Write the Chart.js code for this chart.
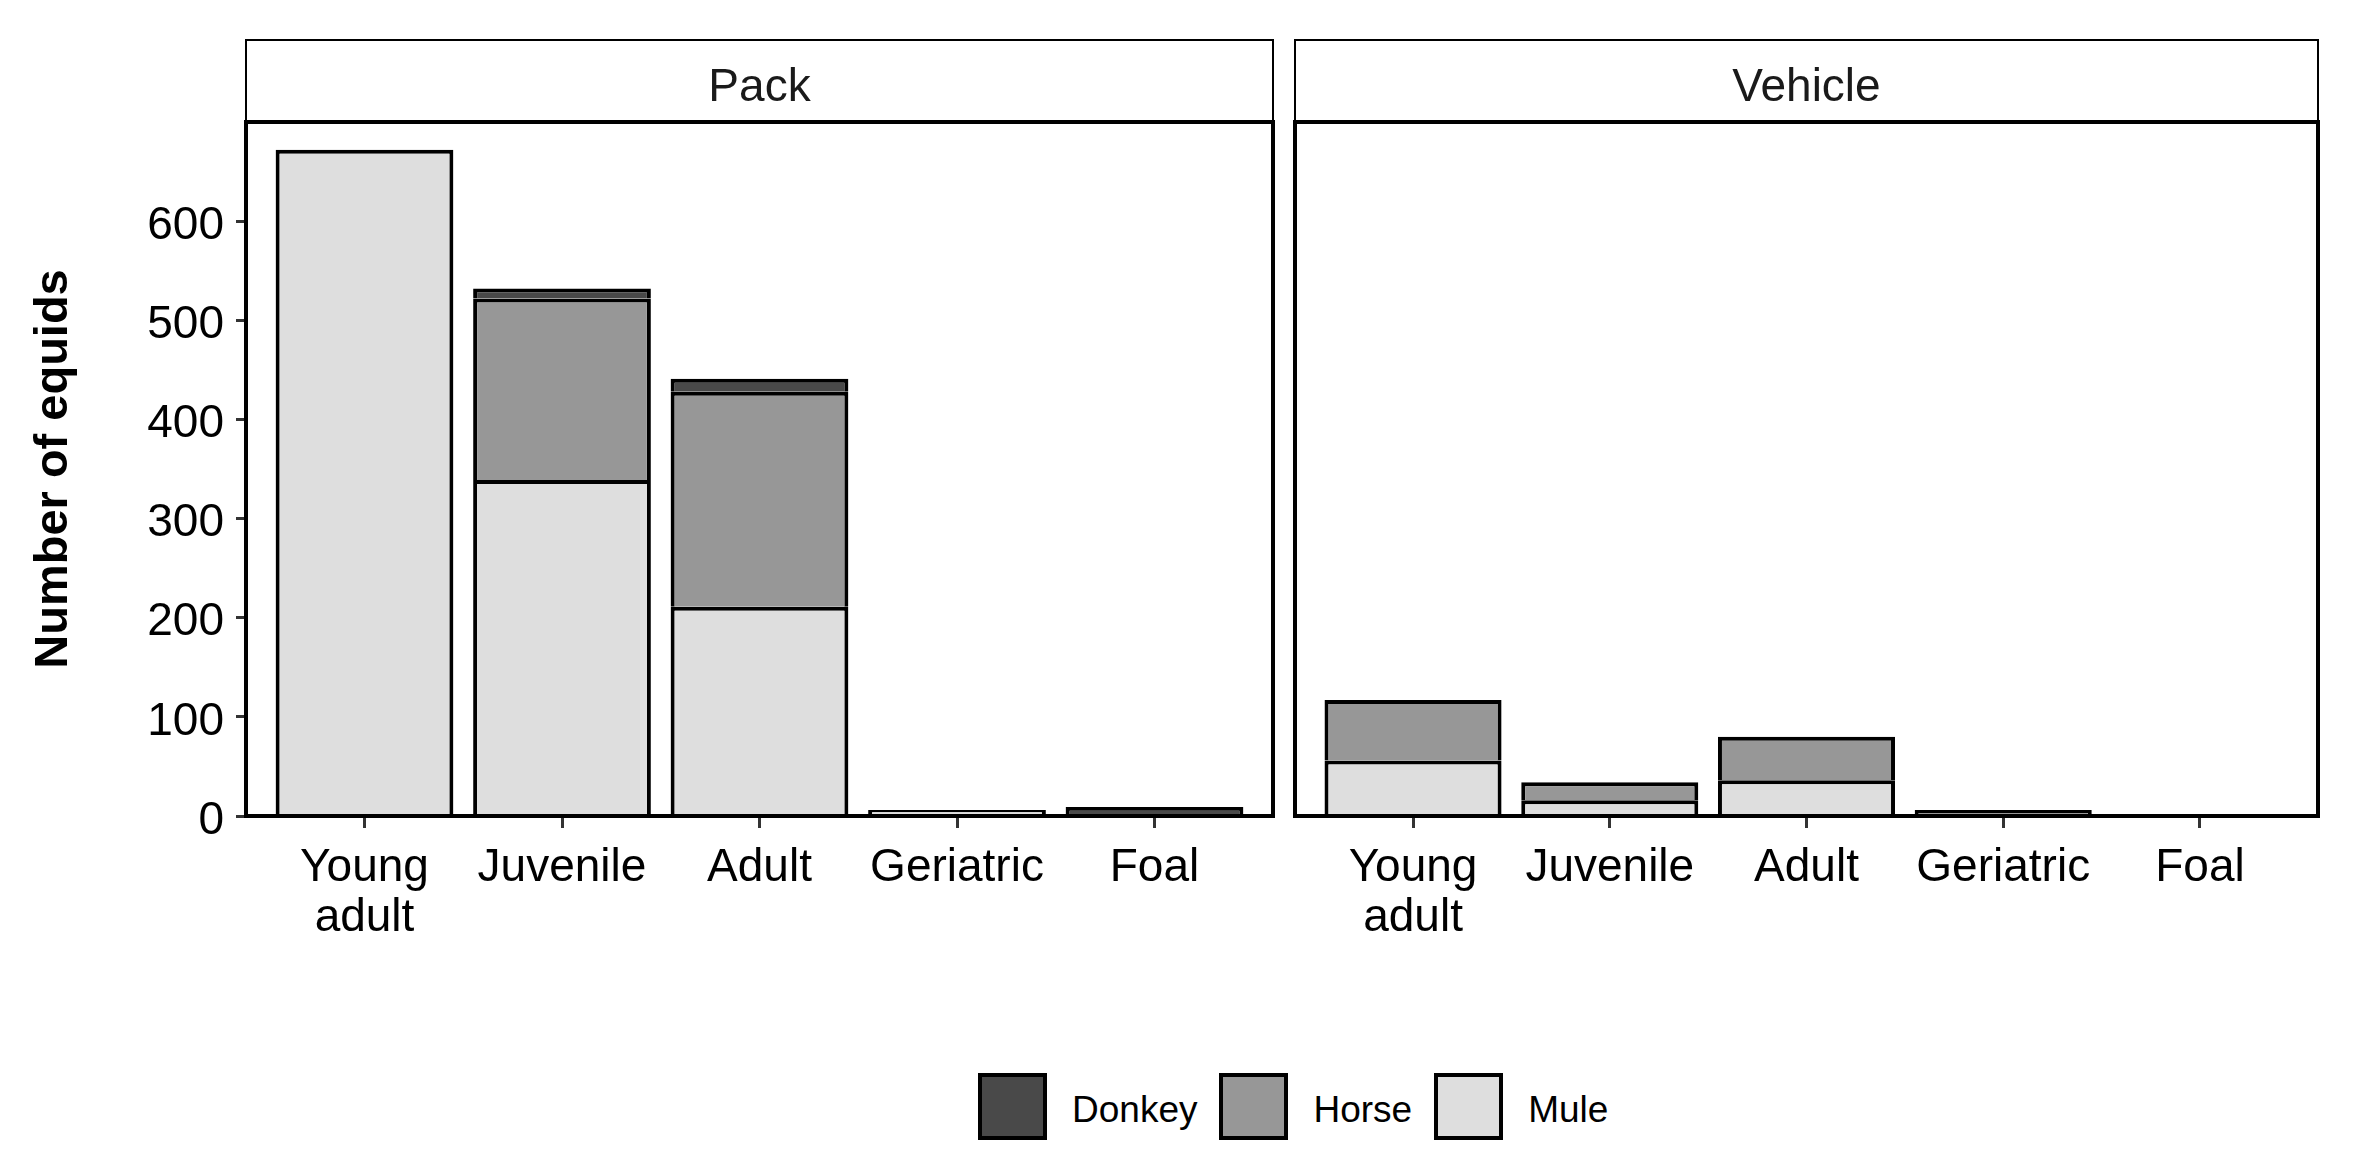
<!DOCTYPE html>
<html>
<head>
<meta charset="utf-8">
<script src="https://cdn.jsdelivr.net/npm/chart.js@4.4.1/dist/chart.umd.min.js"></script>
<style>
  html, body { margin: 0; padding: 0; background: #fff; }
  body { width: 2360px; height: 1174px; position: relative; overflow: hidden;
         font-family: "Liberation Sans", Arial, sans-serif; }
  .panel { position: absolute; top: 0; height: 966px; }
  #legend { position: absolute; left: 978px; top: 1073px; display: flex; align-items: center; }
  .key { width: 69px; height: 67px; box-sizing: border-box; border: 4px solid #000; }
  .lab { font-size: 37px; margin-left: 25px; margin-right: 22px; color: #000;
         position: relative; top: 3px; }
</style>
</head>
<body>
<div class="panel" style="left:0;width:1285px"><canvas id="pack"></canvas></div>
<div class="panel" style="left:1285px;width:1075px"><canvas id="vehicle"></canvas></div>
<div id="legend"></div>
<script>
var AGES = ['Young adult', 'Juvenile', 'Adult', 'Geriatric', 'Foal'];
var SPECIES = ['Donkey', 'Horse', 'Mule'];
var FILLS = ['#494949', '#979797', '#dedede'];
var Y_TICKS = [0, 100, 200, 300, 400, 500, 600];
var Y_MAX = 700;

// Pack
var packDonkey = [0, 10, 13, 0, 9];
var packHorse  = [0, 183, 217, 0, 0];
var packMule   = [672, 339, 211, 6, 0];

// Vehicle
var vehDonkey = [0, 0, 0, 0, 0];
var vehHorse  = [61, 18, 44, 6, 0];
var vehMule   = [56, 16, 36, 0, 0];

Chart.defaults.font.family = '"Liberation Sans", Arial, sans-serif';
Chart.defaults.color = '#000';

// strip on top + box round the panel, like facet_wrap
var facetFrame = {
  id: 'facetFrame',
  afterDatasetsDraw: function(chart, args, opts) {
    var a = chart.chartArea, ctx = chart.ctx;
    ctx.save();
    ctx.strokeStyle = '#000';
    ctx.lineWidth = 2;
    ctx.strokeRect(a.left, opts.stripTop, a.right - a.left, a.top - opts.stripTop);
    ctx.fillStyle = '#1a1a1a';
    ctx.font = '46px "Liberation Sans", Arial, sans-serif';
    ctx.textAlign = 'center';
    ctx.textBaseline = 'middle';
    ctx.fillText(opts.label, (a.left + a.right) / 2, (opts.stripTop + a.top) / 2 + 7);
    ctx.lineWidth = 4;
    ctx.strokeRect(a.left, a.top, a.right - a.left, a.bottom - a.top);
    ctx.restore();
  }
};

function pts(arr) {
  return arr.map(function(v, i) { return { x: i, y: v }; });
}

function makeSets(mule, horse, donkey) {
  // bottom to top: Mule, Horse, Donkey
  var vals = [donkey, horse, mule];
  return [2, 1, 0].map(function(k) {
    return {
      label: SPECIES[k],
      data: pts(vals[k]),
      backgroundColor: FILLS[k],
      borderColor: '#000',
      borderWidth: { top: 4, left: 4, right: 4, bottom: 0 },
      borderSkipped: false,
      categoryPercentage: 1,
      barPercentage: 0.9
    };
  });
}

function xAxis() {
  return {
    type: 'linear', stacked: true, min: -0.6, max: 4.6, offset: false,
    afterBuildTicks: function(s) { s.ticks = AGES.map(function(c, i) { return { value: i }; }); },
    afterFit: function(s) { s.height = 150; },
    grid: { drawOnChartArea: false, offset: false, tickLength: 12, lineWidth: 3, color: '#333' },
    border: { display: false },
    ticks: {
      font: { size: 46, lineHeight: 1.087 }, color: '#000', padding: 15,
      maxRotation: 0, autoSkip: false,
      callback: function(v) { return AGES[v] ? AGES[v].split(' ') : ''; }
    }
  };
}

new Chart(document.getElementById('pack'), {
  type: 'bar',
  data: { datasets: makeSets(packMule, packHorse, packDonkey) },
  options: {
    responsive: true, maintainAspectRatio: false, animation: false,
    layout: { padding: { top: 122, right: 12, left: 0, bottom: 0 } },
    plugins: { legend: { display: false }, tooltip: { enabled: false },
               facetFrame: { label: 'Pack', stripTop: 40 } },
    scales: {
      x: xAxis(),
      y: {
        stacked: true, min: 0, max: Y_MAX,
        afterBuildTicks: function(s) { s.ticks = Y_TICKS.map(function(v) { return { value: v }; }); },
        afterFit: function(s) { s.width = 246; },
        grid: { drawOnChartArea: false, tickLength: 10, lineWidth: 3, color: '#333' },
        border: { display: false },
        ticks: { font: { size: 46 }, color: '#000', padding: 12, labelOffset: 5 },
        title: { display: true, text: 'Number of equids', color: '#000',
                 font: { size: 47, weight: 'bold' }, padding: { top: 26, bottom: 0 } }
      }
    }
  },
  plugins: [facetFrame]
});

new Chart(document.getElementById('vehicle'), {
  type: 'bar',
  data: { datasets: makeSets(vehMule, vehHorse, vehDonkey) },
  options: {
    responsive: true, maintainAspectRatio: false, animation: false,
    layout: { padding: { top: 122, right: 42, left: 10, bottom: 0 } },
    plugins: { legend: { display: false }, tooltip: { enabled: false },
               facetFrame: { label: 'Vehicle', stripTop: 40 } },
    scales: {
      x: xAxis(),
      y: { stacked: true, min: 0, max: Y_MAX, display: false }
    }
  },
  plugins: [facetFrame]
});

// legend
var lg = document.getElementById('legend');
SPECIES.forEach(function(s, i) {
  var k = document.createElement('div');
  k.className = 'key';
  k.style.background = FILLS[i];
  var t = document.createElement('span');
  t.className = 'lab';
  t.textContent = s;
  lg.appendChild(k);
  lg.appendChild(t);
});
</script>
</body>
</html>
